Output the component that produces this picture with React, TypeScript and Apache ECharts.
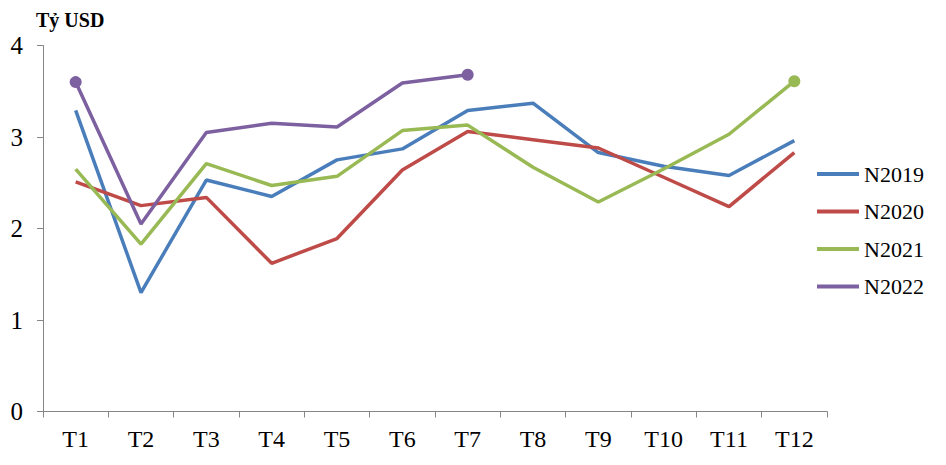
import React, { useEffect, useRef } from "react";
import * as echarts from "echarts";

const categories = ["T1", "T2", "T3", "T4", "T5", "T6", "T7", "T8", "T9", "T10", "T11", "T12"];
const yTicks = [0, 1, 2, 3, 4];
const n2019 = [3.29, 1.3, 2.53, 2.35, 2.75, 2.87, 3.29, 3.37, 2.83, 2.68, 2.58, 2.96];
const n2020 = [2.51, 2.25, 2.34, 1.62, 1.89, 2.64, 3.06, 2.97, 2.88, 2.56, 2.24, 2.83];
const n2021 = [2.65, 1.83, 2.71, 2.47, 2.57, 3.07, 3.13, 2.67, 2.29, 2.65, 3.03, 3.61];
const n2022 = [3.6, 2.05, 3.05, 3.15, 3.11, 3.59, 3.68];
const seriesNames = ["N2019", "N2020", "N2021", "N2022"];
const markerIdx: number[][] = [[], [], [11], [0, 6]];
const colors = ["#4A7EBB", "#BE4B48", "#98B954", "#7D60A0"];

const FONT = "'Liberation Serif', 'Times New Roman', serif";

export default function App() {
  const ref = useRef<HTMLDivElement>(null);
  useEffect(() => {
    const chart = echarts.init(ref.current!, null, { renderer: "svg" });
    const all = [n2019, n2020, n2021, n2022];
    const series = all.map((arr, si) => ({
      name: seriesNames[si],
      type: "line",
      symbol: "none",
      showSymbol: true,
      z: 2 + si,
      lineStyle: { width: 3.5, color: colors[si] },
      itemStyle: { color: colors[si] },
      data: arr.map((v, i) =>
        markerIdx[si].includes(i)
          ? { value: v, symbol: "circle", symbolSize: 12 }
          : v
      ),
    }));
    chart.setOption({
      animation: false,
      textStyle: { fontFamily: FONT },
      grid: { left: 43, right: 119, top: 45.5, bottom: 53.5, containLabel: false },
      graphic: [
        {
          type: "text",
          left: 36,
          top: 10,
          style: {
            text: "Tỷ USD",
            fontFamily: FONT,
            fontWeight: "bold",
            fontSize: 20,
            fill: "#000",
          },
        },
      ],
      legend: {
        orient: "vertical",
        left: 812,
        top: 158,
        icon: "rect",
        itemWidth: 42,
        itemHeight: 4,
        itemGap: 15.5,
        data: seriesNames,
        textStyle: { fontFamily: FONT, fontSize: 22, color: "#000", lineHeight: 22 },
      },
      xAxis: {
        type: "category",
        data: categories,
        boundaryGap: true,
        axisLine: { lineStyle: { color: "#868686", width: 1 } },
        axisTick: { show: true, length: 6, lineStyle: { color: "#868686" } },
        axisLabel: { fontFamily: FONT, fontSize: 24, color: "#000", margin: 15 },
        splitLine: { show: false },
      },
      yAxis: {
        type: "value",
        min: yTicks[0],
        max: yTicks[yTicks.length - 1],
        interval: 1,
        axisLine: { show: true, lineStyle: { color: "#868686", width: 1 } },
        axisTick: { show: true, length: 6, lineStyle: { color: "#868686" } },
        axisLabel: { fontFamily: FONT, fontSize: 25, color: "#000", margin: 20 },
        splitLine: { show: false },
      },
      series,
    });
    return () => chart.dispose();
  }, []);
  return (
    <div
      ref={ref}
      style={{ position: "absolute", left: 0, top: 0, width: 946, height: 465, background: "#fff" }}
    />
  );
}
